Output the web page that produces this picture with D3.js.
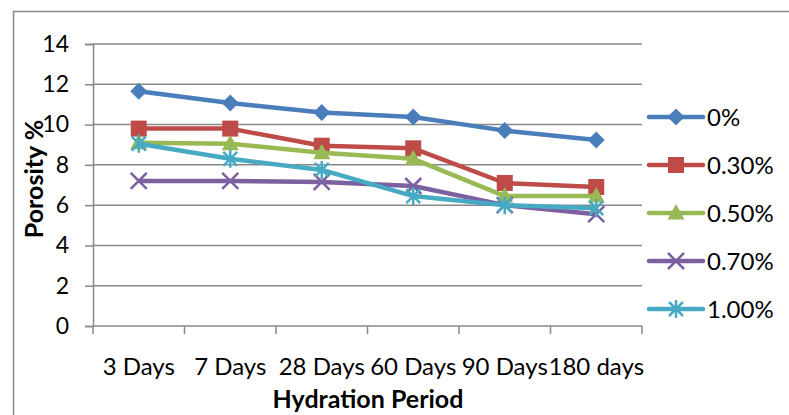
<!DOCTYPE html>
<html>
<head>
<meta charset="utf-8">
<script src="https://cdn.jsdelivr.net/npm/d3@7"></script>
<style>
body { margin:0; background:#fff; }
text { font-family: Lato, "Open Sans", sans-serif; fill:#000; }
</style>
</head>
<body>
<script>
var categories = ["3 Days","7 Days","28 Days","60 Days","90 Days","180 days"];
var seriesNames = ["0%","0.30%","0.50%","0.70%","1.00%"];
var s0  = [11.65, 11.07, 10.6, 10.38, 9.7, 9.23];
var s30 = [9.8, 9.8, 8.95, 8.82, 7.1, 6.9];
var s50 = [9.1, 9.05, 8.6, 8.3, 6.45, 6.45];
var s70 = [7.2, 7.2, 7.15, 6.95, 6.0, 5.55];
var s100 = [9.05, 8.3, 7.75, 6.45, 6.0, 5.85];
var yTicks = [0,2,4,6,8,10,12,14];

var allSeries = [s0, s30, s50, s70, s100];
var colors = ["#4A7EBB","#BE4B48","#98B954","#7D60A0","#46AAC5"];
var shapes = ["diamond","square","triangle","x","star"];

var width = 789, height = 415;
var margin = {left:93, right:147, top:44, bottom:89};

var svg = d3.select("body").append("svg").attr("width",width).attr("height",height);

// outer chart border
svg.append("rect").attr("x",13.5).attr("y",11.5).attr("width",800).attr("height",500)
	.attr("fill","none").attr("stroke","#888").attr("stroke-width",1.5);

var x = d3.scaleBand().domain(categories).range([margin.left, width-margin.right]);
var y = d3.scaleLinear().domain([0,14]).range([height-margin.bottom, margin.top]);

// gridlines
svg.append("g").selectAll("line").data(yTicks.slice(1)).enter().append("line")
	.attr("x1",margin.left).attr("x2",width-margin.right)
	.attr("y1",function(d){ return y(d); }).attr("y2",function(d){ return y(d); })
	.attr("stroke","#888").attr("stroke-width",1.5);

var yAxis = svg.append("g").attr("transform","translate("+margin.left+",0)")
	.call(d3.axisLeft(y).tickValues(yTicks).tickSize(8).tickPadding(16));
var xAxis = svg.append("g").attr("transform","translate(0,"+(height-margin.bottom)+")")
	.call(d3.axisBottom(x).tickSize(0).tickPadding(32));
// x boundary ticks
var xb = d3.range(categories.length+1).map(function(i){ return margin.left + i*x.step(); });
xAxis.selectAll("line.bt").data(xb).enter().append("line").attr("class","bt")
	.attr("x1",function(d){ return d; }).attr("x2",function(d){ return d; })
	.attr("y1",0).attr("y2",8);

svg.selectAll(".domain, .tick line, line.bt").attr("stroke","#888").attr("stroke-width",1.5);
yAxis.selectAll(".tick text").attr("font-size",23).attr("font-family","Lato, sans-serif").attr("fill","#000");
xAxis.selectAll(".tick text").attr("font-size",24).attr("font-family","Lato, sans-serif").attr("fill","#000");
xAxis.select(".domain").attr("d","M"+margin.left+",0H"+(width-margin.right));

// markers
function marker(g, shape, color){
	if(shape=="diamond"){
		g.append("path").attr("d","M0,-8.5L8.5,0L0,8.5L-8.5,0Z").attr("fill",color);
	} else if(shape=="square"){
		g.append("rect").attr("x",-8).attr("y",-8).attr("width",16).attr("height",16).attr("fill",color);
	} else if(shape=="triangle"){
		g.append("path").attr("d","M0,-9L8.5,6.5L-8.5,6.5Z").attr("fill",color);
	} else if(shape=="x"){
		g.append("path").attr("d","M-8,-8L8,8M-8,8L8,-8").attr("stroke",color).attr("stroke-width",2.5);
	} else {
		g.append("path").attr("d","M-7,-7L7,7M-7,7L7,-7M0,-9V9").attr("stroke",color).attr("stroke-width",2.5);
	}
}

var line = d3.line()
	.x(function(d,i){ return x(categories[i]) + x.bandwidth()/2; })
	.y(function(d){ return y(d); });

allSeries.forEach(function(s, k){
	svg.append("path").datum(s).attr("d",line).attr("fill","none")
		.attr("stroke",colors[k]).attr("stroke-width",4.5).attr("stroke-linejoin","round");
	s.forEach(function(v,i){
		var g = svg.append("g").attr("transform","translate("+(x(categories[i])+x.bandwidth()/2)+","+y(v)+")");
		marker(g, shapes[k], colors[k]);
	});
});

// legend
var legend = svg.append("g");
seriesNames.forEach(function(n,k){
	var ly = 117 + k*48;
	legend.append("line").attr("x1",649).attr("x2",703).attr("y1",ly).attr("y2",ly)
		.attr("stroke",colors[k]).attr("stroke-width",4.5).attr("stroke-linecap","round");
	var g = legend.append("g").attr("transform","translate(676,"+ly+")");
	marker(g, shapes[k], colors[k]);
	legend.append("text").attr("x",707).attr("y",ly).attr("dy","0.36em").attr("font-size",24).text(n);
});

// axis titles
svg.append("text").attr("transform","translate(43,179) rotate(-90)")
	.attr("text-anchor","middle").attr("font-weight","bold").attr("font-size",25).text("Porosity %");
svg.append("text").attr("x",368).attr("y",408).attr("text-anchor","middle")
	.attr("font-weight","bold").attr("font-size",25).text("Hydration Period");
</script>
</body>
</html>
